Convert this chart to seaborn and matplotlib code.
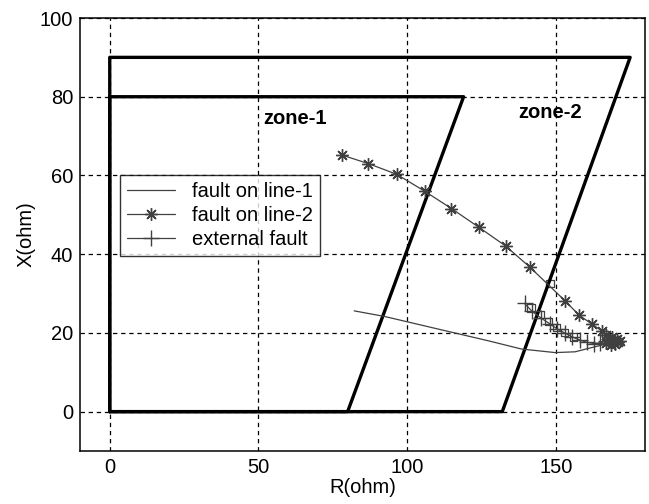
import numpy as np
import pandas as pd
import matplotlib
matplotlib.use("Agg")
import matplotlib.pyplot as plt
import seaborn as sns

# zone boundaries (R, X)
zone1_r = [0, 80, 119, 0, 0]
zone1_x = [0, 0, 80, 80, 0]
zone2_r = [0, 132, 175, 0, 0]
zone2_x = [0, 0, 90, 90, 0]

# fault on line-1 (plain line)
line1_r = [82.2, 92.3, 103.0, 113.7, 127.3, 138.5, 149.8, 156.5, 162.2, 165.5, 167.8, 170.0, 171.2]
line1_x = [25.6, 24.2, 22.3, 20.4, 18.0, 15.9, 15.0, 15.2, 16.3, 16.9, 17.5, 18.0, 18.4]

# fault on line-2 (asterisk)
line2_r = [78.0, 87.0, 96.5, 105.9, 114.9, 124.2, 133.1, 141.3, 153.2, 157.7, 162.2, 165.5,
           167.0, 169.0, 170.5, 171.5, 170.0, 168.5, 167.0, 169.5, 171.0, 168.0]
line2_x = [65.2, 63.0, 60.3, 56.0, 51.6, 46.8, 42.1, 36.7, 28.1, 24.6, 22.2, 20.5,
           19.5, 19.0, 18.5, 18.0, 17.3, 17.0, 17.5, 18.2, 17.8, 18.5]

# external fault (plus)
ext_r = [139.5, 142.0, 145.0, 148.0, 150.5, 153.0, 155.5, 158.0, 160.5, 163.0, 165.0, 167.0, 169.0]
ext_x = [27.5, 25.5, 23.8, 22.3, 21.0, 20.0, 19.0, 18.2, 17.6, 17.3, 17.5, 18.0, 18.3]

# extra square markers near the external fault path
sq_r = [148.0, 141.7, 144.7, 147.5, 150.3, 153.0, 156.0]
sq_x = [32.5, 26.3, 24.7, 22.9, 21.3, 20.1, 19.0]

sns.set_style("white")
plt.rcParams['font.family'] = ['Liberation Sans', 'DejaVu Sans']
plt.rcParams['text.color'] = 'black'
plt.rcParams['axes.labelcolor'] = 'black'

fig = plt.figure(figsize=(6.49, 5.04), dpi=100)
ax = fig.add_axes([80/649, 1-451/504, (645-80)/649, (451-18)/504])

gray = '#404040'
star = (8, 2, 0)

sns.lineplot(x=zone1_r, y=zone1_x, sort=False, estimator=None, color='black', linewidth=2.4, ax=ax)
sns.lineplot(x=zone2_r, y=zone2_x, sort=False, estimator=None, color='black', linewidth=2.4, ax=ax)

sns.lineplot(x=line1_r, y=line1_x, sort=False, estimator=None, color=gray, linewidth=0.9,
             ax=ax, label='fault on line-1')
sns.lineplot(x=line2_r, y=line2_x, sort=False, estimator=None, color=gray, linewidth=0.9,
             marker=star, markersize=9, markeredgewidth=1.0, markeredgecolor=gray,
             ax=ax, label='fault on line-2')
sns.lineplot(x=ext_r, y=ext_x, sort=False, estimator=None, color=gray, linewidth=0.9,
             marker='+', markersize=11, markeredgewidth=1.0, markeredgecolor=gray,
             ax=ax, label='external fault')
sns.scatterplot(x=sq_r, y=sq_x, marker='s', s=28, facecolor='none', edgecolor=gray,
                linewidth=0.9, ax=ax)

ax.text(51.5, 74.5, 'zone-1', fontsize=14.5, fontweight='bold', va='center', ha='left', color='black')
ax.text(137.5, 76, 'zone-2', fontsize=14.5, fontweight='bold', va='center', ha='left', color='black')

ax.set_xlim(-10, 180)
ax.set_ylim(-10, 100)
ax.set_xticks([0, 50, 100, 150])
ax.set_yticks([0, 20, 40, 60, 80, 100])
ax.grid(True, color='black', linestyle=(0, (3.5, 3)), linewidth=0.9)
ax.set_axisbelow(True)
ax.tick_params(direction='in', length=4, labelsize=14.5, colors='black', pad=5)
for s in ax.spines.values():
    s.set_color('black')
    s.set_linewidth(1.1)

ax.set_xlabel('R(ohm)', fontsize=14.5, labelpad=1)
ax.set_ylabel('X(ohm)', fontsize=14.5, labelpad=3)

leg = ax.legend(loc='upper left', bbox_to_anchor=(0.071, 0.637), borderaxespad=0,
                fontsize=14.5, frameon=True, fancybox=False, edgecolor='black',
                handlelength=2.4, labelspacing=0.25, borderpad=0.35, handletextpad=0.8)
leg.get_frame().set_linewidth(1.0)
for t in leg.get_texts():
    t.set_color('black')

fig.savefig('out.png', dpi=100)
